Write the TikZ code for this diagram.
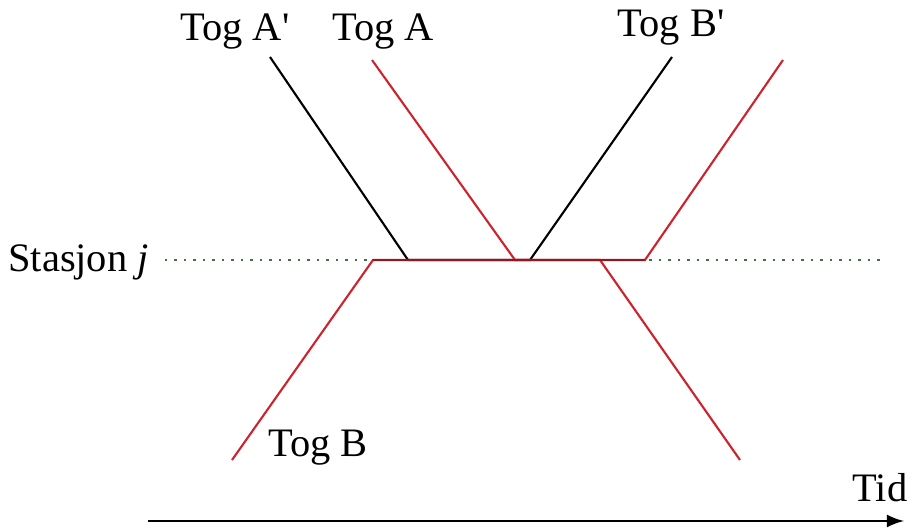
\documentclass[tikz,border=0pt]{standalone}
\usepackage{fontspec}
\setmainfont{Liberation Serif}
\definecolor{togred}{RGB}{205,35,45}
\definecolor{stasgreen}{RGB}{70,110,70}
\begin{document}
\begin{tikzpicture}[x=0.01cm,y=-0.01cm,
  tog/.style={line width=0.6pt},
  lbl/.style={font=\fontsize{11.5}{13}\selectfont,inner sep=1pt}]
\useasboundingbox (0,0) rectangle (912,528);

% Coordinates
\coordinate (Bstart) at (232,460);
\coordinate (Bin) at (373,260);
\coordinate (Bout) at (645,260);
\coordinate (Bend) at (783,60);
\coordinate (Astart) at (372,60);
\coordinate (Ain) at (515,260);
\coordinate (Aout) at (600,260);
\coordinate (Aend) at (740,460);
\coordinate (Apstart) at (270,57);
\coordinate (Apin) at (408,260);
\coordinate (Bpout) at (530,260);
\coordinate (Bpend) at (672,57);
\coordinate (Sleft) at (165,260);
\coordinate (Sright) at (882,260);
\coordinate (Tleft) at (148,521);
\coordinate (Tright) at (904,521);

% Station line
\draw[stasgreen,dotted,line width=0.7pt] (Sleft)--(Sright);

% Labels
\node[lbl,anchor=east] (stasjon) at (153,262) {Stasjon \textit{j}};
\node[lbl] (togAp) at (235,32) {Tog A\textquotesingle};
\node[lbl] (togA) at (383,32) {Tog A};
\node[lbl] (togBp) at (671,28) {Tog B\textquotesingle};
\node[lbl] (togB) at (318,448) {Tog B};
\node[lbl] (tid) at (880,488) {Tid};

% Trains
\draw[tog] (Apstart)--(Apin)--(Bpout)--(Bpend);
\draw[tog,togred] (Astart)--(Ain)--(Aout)--(Aend);
\draw[tog,togred] (Bstart)--(Bin)--(Bout)--(Bend);
\draw[tog,togred!70!black] (Bin)--(Bout);

% Time axis
\draw[-latex,line width=0.7pt] (Tleft)--(Tright);

\end{tikzpicture}
\end{document}
